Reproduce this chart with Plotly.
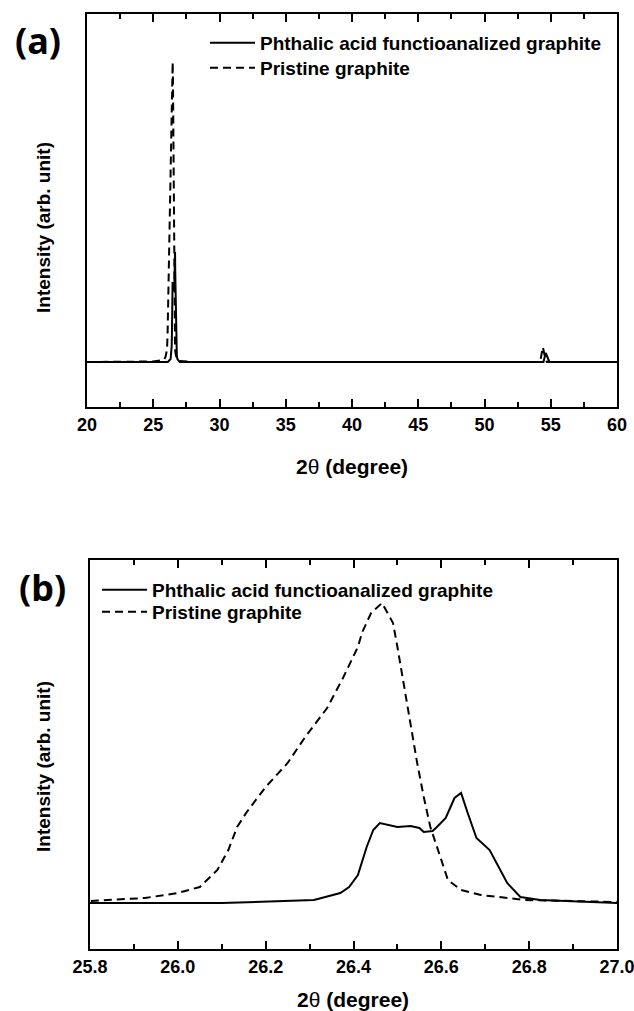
import plotly.graph_objects as go

# ---------------- data ----------------
# Pristine graphite (dashed) : 2theta (deg), intensity (arb.)
pristine_x = [20.0, 25.0, 25.8, 25.925, 26.0, 26.05, 26.09, 26.115, 26.135, 26.157, 26.2, 26.25,
              26.29, 26.34, 26.376, 26.41, 26.42, 26.44, 26.465, 26.49, 26.5, 26.515, 26.53,
              26.545, 26.56, 26.575, 26.6, 26.615, 26.645, 26.69, 26.79, 27.0, 28.0,
              54.2, 54.4, 54.55, 54.7, 60.0]
pristine_y = [0, 0.5, 2, 5, 10, 16, 33, 53, 76, 91, 116, 140,
              166, 195, 225, 256, 271, 290, 300, 280, 256, 216, 176,
              140, 106, 76, 43, 23, 13, 8, 3, 1, 0,
              0, 15, 6, 0, 0]

# Phthalic acid functionalized graphite (solid)
phthalic_x = [20.0, 25.8, 26.1, 26.31, 26.37, 26.39, 26.41, 26.43, 26.445, 26.46, 26.48, 26.5,
              26.53, 26.55, 26.56, 26.58, 26.59, 26.61, 26.63, 26.645, 26.66, 26.68, 26.71,
              26.73, 26.75, 26.78, 26.825, 27.0, 28.0,
              54.45, 54.62, 54.72, 54.9, 60.0]
phthalic_y = [0, 0, 0, 3, 10, 16, 28, 56, 73, 80, 78, 76,
              77, 75, 71, 72, 76, 85, 105, 110, 90, 65, 53,
              36, 20, 6, 3, 0, 0,
              0, 9, 5, 0, 0]

series_names = ["Phthalic acid functioanalized graphite", "Pristine graphite"]

# tick values
ticks_a = [20, 25, 30, 35, 40, 45, 50, 55, 60]
minor_a = [22.5, 27.5, 32.5, 37.5, 42.5, 47.5, 52.5, 57.5]
ticks_b = [25.8, 26.0, 26.2, 26.4, 26.6, 26.8, 27.0]
ticklabels_b = ["25.8", "26.0", "26.2", "26.4", "26.6", "26.8", "27.0"]
minor_b = [25.9, 26.1, 26.3, 26.5, 26.7, 26.9]

W, H = 634, 1011

def px(x):
    return x / W

def py(y):
    return 1 - y / H

line_solid = dict(color="black", width=2)
line_dash = dict(color="black", width=2, dash="8px,5px")

fig = go.Figure()

# panel (a)
fig.add_trace(go.Scatter(x=phthalic_x, y=phthalic_y, mode="lines", line=line_solid,
                         name=series_names[0], xaxis="x", yaxis="y", legend="legend"))
fig.add_trace(go.Scatter(x=pristine_x, y=pristine_y, mode="lines", line=line_dash,
                         name=series_names[1], xaxis="x", yaxis="y", legend="legend2"))
# panel (b)
fig.add_trace(go.Scatter(x=phthalic_x, y=phthalic_y, mode="lines", line=line_solid,
                         name=series_names[0], xaxis="x2", yaxis="y2", legend="legend3"))
fig.add_trace(go.Scatter(x=pristine_x, y=pristine_y, mode="lines", line=line_dash,
                         name=series_names[1], xaxis="x2", yaxis="y2", legend="legend4"))

tickfont = dict(family="Liberation Sans, Arial, sans-serif", size=18, color="black", weight="bold")

def xaxis_cfg(domain, rng, tickvals, ticktext, minorvals, anchor):
    return dict(domain=domain, range=rng, anchor=anchor,
                tickmode="array", tickvals=tickvals, ticktext=ticktext,
                showline=True, linecolor="black", linewidth=2, mirror="allticks",
                ticks="inside", ticklen=8, tickwidth=2, tickcolor="black",
                minor=dict(tickmode="array", tickvals=minorvals, ticks="inside", ticklen=5,
                           tickwidth=2, tickcolor="black", showgrid=False),
                showgrid=False, zeroline=False, tickfont=tickfont,
                ticklabeloverflow="allow")

def yaxis_cfg(domain, rng, anchor):
    return dict(domain=domain, range=rng, anchor=anchor, showline=True, linecolor="black",
                linewidth=2, mirror=True, ticks="", showticklabels=False,
                showgrid=False, zeroline=False)

legend_font = dict(family="Liberation Sans, Arial, sans-serif", size=19, color="black", weight="bold")

def legend_cfg(x, y):
    return dict(x=px(x), y=py(y), xanchor="left", yanchor="top", font=legend_font,
                bgcolor="rgba(0,0,0,0)", borderwidth=0, tracegroupgap=0, itemwidth=45)

fig.update_layout(
    width=W, height=H,
    margin=dict(l=0, r=0, t=0, b=0, autoexpand=False),
    paper_bgcolor="white", plot_bgcolor="white",
    xaxis=xaxis_cfg([px(87), px(617)], [20, 60], ticks_a, [str(t) for t in ticks_a], minor_a, "y"),
    yaxis=yaxis_cfg([py(407), py(14)], [-45, 348], "x"),
    xaxis2=xaxis_cfg([px(90), px(617)], [25.8, 27.0], ticks_b, ticklabels_b, minor_b, "y2"),
    yaxis2=yaxis_cfg([py(949), py(560)], [-46, 343], "x2"),
    legend=legend_cfg(205, 24),
    legend2=legend_cfg(205, 49),
    legend3=legend_cfg(97, 571),
    legend4=legend_cfg(97, 593),
    showlegend=True,
)

title_font = dict(family="Liberation Sans, Arial, sans-serif", size=19, color="black")
xtitle_font = dict(family="Liberation Sans, Arial, sans-serif", size=21, color="black")
label_font = dict(family="Noto Sans, Open Sans, sans-serif", size=36, color="black", weight="bold")

annos = [
    dict(text="(a)", x=px(38), y=py(41), font=label_font),
    dict(text="(b)", x=px(42), y=py(587), font=label_font),
    dict(text="<b>Intensity (arb. unit)</b>", x=px(43), y=py(228), textangle=-90, font=title_font),
    dict(text="<b>Intensity (arb. unit)</b>", x=px(43), y=py(767), textangle=-90, font=title_font),
    dict(text="<b>2</b>θ<b> (degree)</b>", x=px(352), y=py(466), font=xtitle_font),
    dict(text="<b>2</b>θ<b> (degree)</b>", x=px(353), y=py(999), font=xtitle_font),
]
for a in annos:
    a.update(xref="paper", yref="paper", showarrow=False, xanchor="center", yanchor="middle")
fig.update_layout(annotations=annos)

fig.write_html("out.html", config={"displayModeBar": False},
               post_script="document.body.style.margin='0';document.body.style.overflow='hidden';")
